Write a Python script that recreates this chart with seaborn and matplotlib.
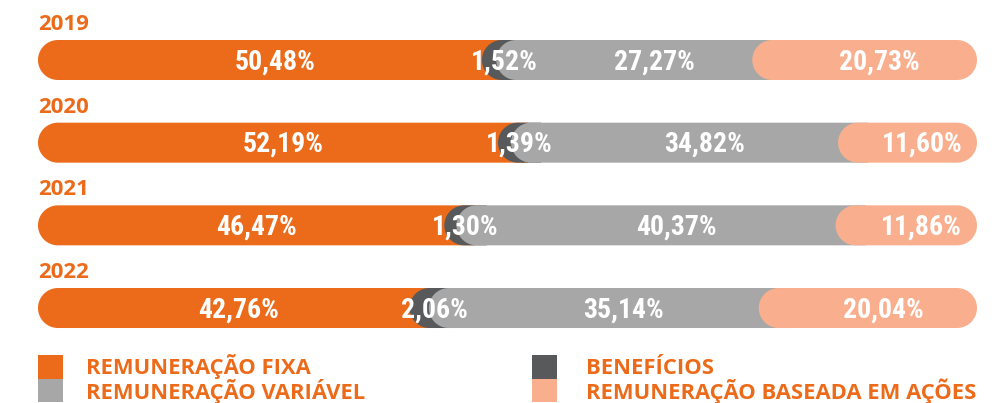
import numpy as np
import matplotlib
matplotlib.use("Agg")
import matplotlib.pyplot as plt
from matplotlib.patches import Polygon, Rectangle
import seaborn as sns

# Composition of pay per year (percent of total)
years = ["2019", "2020", "2021", "2022"]
fixa = [50.48, 52.19, 46.47, 42.76]
beneficios = [1.52, 1.39, 1.30, 2.06]
variavel = [27.27, 34.82, 40.37, 35.14]
acoes = [20.73, 11.60, 11.86, 20.04]

series_names = ["REMUNERAÇÃO FIXA", "BENEFÍCIOS",
                "REMUNERAÇÃO VARIÁVEL", "REMUNERAÇÃO BASEADA EM AÇÕES"]
series_values = [fixa, beneficios, variavel, acoes]
colors = ["#EC6B1A", "#58595B", "#A7A7A7", "#F9AF8E"]
ORANGE = "#EC6B1A"

W, H = 1008, 403
sns.set_theme(style="white")
plt.rcParams["font.family"] = ["Open Sans", "DejaVu Sans"]
LABEL_FONT = ["Roboto Condensed", "DejaVu Sans"]

fig = plt.figure(figsize=(W / 100, H / 100), dpi=100)
ax = fig.add_axes([0, 0, 1, 1])

# pixel scale of the axes
PX_X = 9.39      # pixels per percentage point
PX_Y = 82.67     # pixels per bar slot
X0, Y0 = 38, 60  # pixel position of x=0 and of the first bar centre
BAR_H = 40 / PX_Y

cum = np.cumsum(np.array(series_values), axis=0)

# cumulative bars drawn by seaborn; their geometry is reused for rounded shapes
geoms = []
for k in range(len(series_values)):
    n0 = len(ax.patches)
    sns.barplot(x=list(cum[k]), y=years, color=colors[k], width=BAR_H,
                ax=ax, orient="h")
    new = ax.patches[n0:]
    geoms.append([(p.get_width(), p.get_y() + p.get_height() / 2) for p in new])
    for p in new:
        p.remove()

rx = 20 / PX_X
ry = BAR_H / 2
OFF = 3.2  # overlap of each rounded start onto the previous segment


def capsule(left, right, yc, round_left, round_right):
    pts = []
    if round_right:
        t = np.linspace(-np.pi / 2, np.pi / 2, 40)
        pts += list(zip(right - rx + rx * np.cos(t), yc + ry * np.sin(t)))
    else:
        pts += [(right, yc - ry), (right, yc + ry)]
    if round_left:
        t = np.linspace(np.pi / 2, 3 * np.pi / 2, 40)
        pts += list(zip(left + rx + rx * np.cos(t), yc + ry * np.sin(t)))
    else:
        pts += [(left, yc + ry), (left, yc - ry)]
    return pts


nseries = len(series_values)
for k in range(nseries):
    for i, (end, yc) in enumerate(geoms[k]):
        start = geoms[k - 1][i][0] if k > 0 else 0.0
        left = start - OFF if k > 0 else 0.0
        last = k == nseries - 1
        poly = Polygon(capsule(left, end, yc, True, last), closed=True,
                       facecolor=colors[k], edgecolor="none", zorder=2 + k)
        ax.add_patch(poly)
        val = series_values[k][i]
        xc = (start + end) / 2 if val >= 5 else (left + end) / 2
        ax.text(xc, yc + 0.02, f"{val:.2f}".replace(".", ",") + "%",
                ha="center", va="center", color="white", fontsize=20,
                fontweight="bold", fontstretch="condensed",
                family=LABEL_FONT, zorder=10)

# year titles above each bar
for i, yr in enumerate(years):
    ax.text(0, i - 30 / PX_Y, yr, ha="left", va="baseline", color=ORANGE,
            fontsize=16, fontweight="bold", zorder=10)

ax.set_xlim(-X0 / PX_X, (W - X0) / PX_X)
ax.set_ylim((H - Y0) / PX_Y, -Y0 / PX_Y)
ax.axis("off")


# legend: two columns of stacked colour squares with labels
def fx(px):
    return px / W


def fy(py):
    return 1 - py / H


legend_cols = [(38, 86, [0, 2]), (532, 586, [1, 3])]
for sq_x, txt_x, idxs in legend_cols:
    for r, k in enumerate(idxs):
        top = 355 + r * 23.5
        fig.patches.append(Rectangle((fx(sq_x), fy(top + 23.5)), 25 / W, 23.5 / H,
                                     transform=fig.transFigure,
                                     facecolor=colors[k], edgecolor="none"))
        fig.text(fx(txt_x), fy(374 + r * 25), series_names[k], ha="left",
                 va="baseline", color=ORANGE, fontsize=15.8, fontweight="bold")

fig.savefig("out.png", dpi=100)
